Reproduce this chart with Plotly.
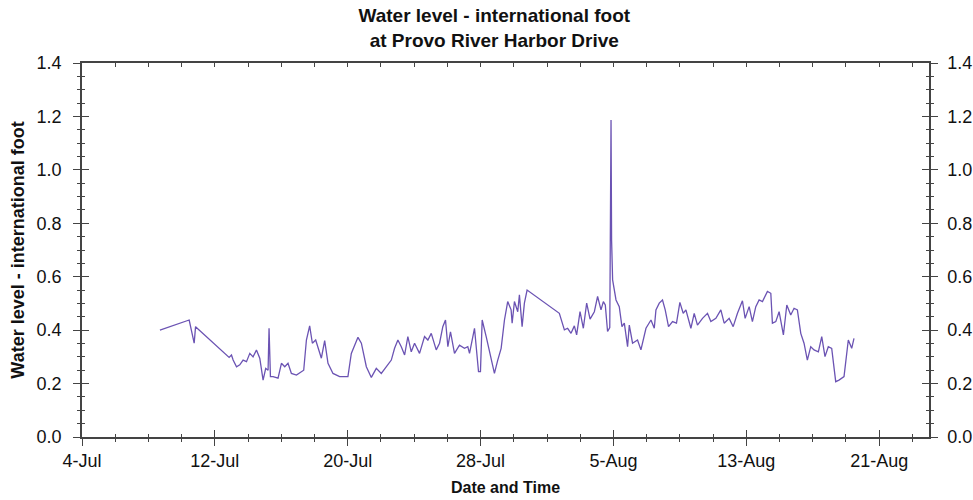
import plotly.graph_objects as go
import pandas as pd

# Water level readings (international foot) at Provo River Harbor Drive
times = [
    "2023-07-08 16:36", "2023-07-10 10:54", "2023-07-10 18:06", "2023-07-10 20:06",
    "2023-07-12 20:36", "2023-07-13 00:00", "2023-07-13 02:24", "2023-07-13 07:18",
    "2023-07-13 12:00", "2023-07-13 16:48", "2023-07-13 21:42", "2023-07-14 02:30",
    "2023-07-14 07:12", "2023-07-14 12:06", "2023-07-14 16:54", "2023-07-14 19:18",
    "2023-07-14 21:42", "2023-07-15 01:30", "2023-07-15 04:54", "2023-07-15 06:18",
    "2023-07-15 08:18", "2023-07-15 12:06", "2023-07-15 19:18", "2023-07-16 00:12",
    "2023-07-16 05:00", "2023-07-16 09:42", "2023-07-16 14:36", "2023-07-16 21:54",
    "2023-07-17 05:06", "2023-07-17 08:24", "2023-07-17 12:18", "2023-07-17 17:00",
    "2023-07-17 20:54", "2023-07-18 01:42", "2023-07-18 09:54", "2023-07-18 14:42",
    "2023-07-18 19:30", "2023-07-19 02:42", "2023-07-19 12:18", "2023-07-20 00:18",
    "2023-07-20 05:12", "2023-07-20 14:48", "2023-07-20 19:42", "2023-07-21 02:54",
    "2023-07-21 10:06", "2023-07-21 17:18", "2023-07-22 00:30", "2023-07-22 07:42",
    "2023-07-22 15:00", "2023-07-22 19:42", "2023-07-23 00:30", "2023-07-23 05:24",
    "2023-07-23 10:12", "2023-07-23 14:54", "2023-07-23 19:48", "2023-07-24 00:36",
    "2023-07-24 07:48", "2023-07-24 15:00", "2023-07-24 19:48", "2023-07-25 00:42",
    "2023-07-25 07:54", "2023-07-25 12:42", "2023-07-25 17:24", "2023-07-25 21:18",
    "2023-07-26 00:42", "2023-07-26 04:30", "2023-07-26 10:18", "2023-07-26 17:30",
    "2023-07-27 00:42", "2023-07-27 05:30", "2023-07-27 08:00", "2023-07-27 15:12",
    "2023-07-27 21:00", "2023-07-27 23:48", "2023-07-28 02:18", "2023-07-28 08:06",
    "2023-07-28 20:00", "2023-07-29 00:48", "2023-07-29 05:42", "2023-07-29 10:30",
    "2023-07-29 15:12", "2023-07-29 20:06", "2023-07-29 21:36", "2023-07-30 00:54",
    "2023-07-30 05:42", "2023-07-30 08:06", "2023-07-30 12:00", "2023-07-30 15:18",
    "2023-07-30 19:12", "2023-08-01 17:48", "2023-08-01 21:42", "2023-08-02 01:06",
    "2023-08-02 05:48", "2023-08-02 10:42", "2023-08-02 15:30", "2023-08-02 18:48",
    "2023-08-02 23:42", "2023-08-03 04:30", "2023-08-03 09:18", "2023-08-03 14:12",
    "2023-08-03 20:24", "2023-08-04 01:06", "2023-08-04 06:00", "2023-08-04 09:24",
    "2023-08-04 12:12", "2023-08-04 15:30", "2023-08-04 18:42", "2023-08-04 20:30",
    "2023-08-04 21:18", "2023-08-04 22:48", "2023-08-05 03:42", "2023-08-05 08:24",
    "2023-08-05 12:18", "2023-08-05 15:42", "2023-08-05 20:24", "2023-08-05 22:54",
    "2023-08-06 03:36", "2023-08-06 10:48", "2023-08-06 15:42", "2023-08-06 23:00",
    "2023-08-07 06:12", "2023-08-07 11:00", "2023-08-07 13:24", "2023-08-07 18:12",
    "2023-08-07 22:54", "2023-08-08 02:48", "2023-08-08 07:36", "2023-08-08 13:24",
    "2023-08-08 19:06", "2023-08-09 00:00", "2023-08-09 04:48", "2023-08-09 08:42",
    "2023-08-09 15:54", "2023-08-09 20:42", "2023-08-10 01:24", "2023-08-10 08:42",
    "2023-08-10 15:54", "2023-08-10 20:48", "2023-08-11 04:00", "2023-08-11 11:12",
    "2023-08-11 16:00", "2023-08-11 23:12", "2023-08-12 05:00", "2023-08-12 11:12",
    "2023-08-12 18:24", "2023-08-12 22:18", "2023-08-13 04:06", "2023-08-13 08:48",
    "2023-08-13 13:42", "2023-08-13 18:30", "2023-08-13 23:18", "2023-08-14 06:30",
    "2023-08-14 11:24", "2023-08-14 13:42", "2023-08-14 18:36", "2023-08-14 23:24",
    "2023-08-15 05:36", "2023-08-15 10:30", "2023-08-15 16:12", "2023-08-15 21:00",
    "2023-08-16 01:48", "2023-08-16 06:42", "2023-08-16 11:24", "2023-08-16 16:12",
    "2023-08-16 21:06", "2023-08-17 01:54", "2023-08-17 08:06", "2023-08-17 13:00",
    "2023-08-17 17:42", "2023-08-17 22:30", "2023-08-18 03:24", "2023-08-18 09:12",
    "2023-08-18 13:54", "2023-08-18 21:12", "2023-08-19 03:24", "2023-08-19 08:18",
    "2023-08-19 11:36",
]

water_level = [
    0.400, 0.438, 0.351, 0.413,
    0.298, 0.307, 0.288, 0.263,
    0.270, 0.288, 0.282, 0.313,
    0.300, 0.326, 0.295, 0.250,
    0.213, 0.257, 0.250, 0.407,
    0.226, 0.226, 0.220, 0.276,
    0.263, 0.276, 0.238, 0.232,
    0.245, 0.250, 0.363, 0.416,
    0.351, 0.363, 0.295, 0.361,
    0.276, 0.238, 0.226, 0.226,
    0.313, 0.373, 0.351, 0.263,
    0.223, 0.257, 0.238, 0.263,
    0.288, 0.332, 0.363, 0.338,
    0.307, 0.376, 0.319, 0.351,
    0.313, 0.376, 0.363, 0.388,
    0.326, 0.351, 0.413, 0.438,
    0.338, 0.394, 0.313, 0.344,
    0.332, 0.338, 0.313, 0.407,
    0.245, 0.245, 0.438, 0.376,
    0.238, 0.288, 0.332, 0.438,
    0.507, 0.476, 0.426, 0.507,
    0.469, 0.532, 0.413, 0.501,
    0.550, 0.463, 0.432, 0.401,
    0.407, 0.388, 0.416, 0.382,
    0.469, 0.407, 0.501, 0.441,
    0.469, 0.526, 0.476, 0.507,
    0.494, 0.395, 0.410, 1.187,
    0.738, 0.588, 0.513, 0.488,
    0.413, 0.426, 0.338, 0.419,
    0.351, 0.363, 0.326, 0.407,
    0.438, 0.407, 0.476, 0.501,
    0.513, 0.476, 0.413, 0.432,
    0.426, 0.504, 0.463, 0.476,
    0.407, 0.463, 0.419, 0.444,
    0.463, 0.432, 0.444, 0.476,
    0.426, 0.444, 0.413, 0.463,
    0.510, 0.444, 0.488, 0.432,
    0.488, 0.513, 0.507, 0.545,
    0.538, 0.426, 0.432, 0.469,
    0.382, 0.494, 0.457, 0.482,
    0.476, 0.388, 0.351, 0.288,
    0.338, 0.326, 0.319, 0.376,
    0.301, 0.338, 0.332, 0.207,
    0.213, 0.226, 0.363, 0.332,
    0.369,
]

x_range = ["2023-07-04", "2023-08-24"]
y_range = [0, 1.4]

title_lines = ["Water level - international foot", "at Provo River Harbor Drive"]
y_title = "Water level - international foot"
x_title = "Date and Time"

FONT = "Liberation Sans, Arial, sans-serif"
AXIS_COLOR = "#444444"
LINE_COLOR = "#6b53b3"
DAY_MS = 86400000

fig = go.Figure()
fig.add_trace(go.Scatter(
    x=pd.to_datetime(times), y=water_level, mode="lines",
    line=dict(color=LINE_COLOR, width=1.3), showlegend=False,
    hoverinfo="x+y",
))
# helper traces so that the overlay axes (crossing ticks) are drawn
for xa, ya in [("x2", "y2"), ("x3", "y3"), ("x", "y4")]:
    fig.add_trace(go.Scatter(x=pd.to_datetime(times[:1]), y=water_level[:1],
                             xaxis=xa, yaxis=ya, mode="lines",
                             showlegend=False, hoverinfo="skip", opacity=0))

xcommon = dict(type="date", range=x_range, tick0="2023-07-04", dtick=8 * DAY_MS,
               showgrid=False, zeroline=False, tickcolor=AXIS_COLOR,
               automargin=False)
ycommon = dict(range=y_range, dtick=0.2, tick0=0, showgrid=False, zeroline=False,
               tickcolor=AXIS_COLOR, automargin=False)

title_html = "<br>".join("<b>" + t + "</b>" for t in title_lines)

fig.update_layout(
    width=973, height=500,
    margin=dict(l=82, r=44, t=63, b=63, autoexpand=False),
    paper_bgcolor="white", plot_bgcolor="white",
    font=dict(family=FONT, color="#222222"),
    title=dict(text=title_html,
               x=0.508, xref="container", xanchor="center",
               y=0.956, yref="container", yanchor="top",
               font=dict(family=FONT, size=19, color="#111111")),
    xaxis=dict(**xcommon, side="bottom", tickformat="%-d-%b",
               ticks="outside", ticklen=7, tickwidth=1,
               minor=dict(dtick=2 * DAY_MS, tick0="2023-07-04", ticks="outside",
                          ticklen=3, tickcolor=AXIS_COLOR, showgrid=False),
               showline=True, linecolor=AXIS_COLOR, linewidth=1.5,
               tickfont=dict(size=18, color="#111111"),
               title=dict(text="<b>" + x_title + "</b>",
                          font=dict(size=16, color="#111111"), standoff=11)),
    xaxis2=dict(**xcommon, overlaying="x", side="bottom", anchor="y",
                ticks="inside", ticklen=7, showticklabels=False, showline=False,
                minor=dict(dtick=2 * DAY_MS, tick0="2023-07-04", ticks="inside",
                           ticklen=3, tickcolor=AXIS_COLOR, showgrid=False)),
    xaxis3=dict(**xcommon, overlaying="x", side="top", anchor="y",
                ticks="inside", ticklen=4, showticklabels=False,
                showline=True, linecolor=AXIS_COLOR, linewidth=1.5,
                minor=dict(dtick=2 * DAY_MS, tick0="2023-07-04", ticks="inside",
                           ticklen=4, tickcolor=AXIS_COLOR, showgrid=False)),
    yaxis=dict(**ycommon, side="left", ticks="outside", ticklen=7,
               tickformat=".1f", ticklabelstandoff=8,
               minor=dict(dtick=0.05, ticks="outside", ticklen=3,
                          tickcolor=AXIS_COLOR, showgrid=False),
               showline=True, linecolor=AXIS_COLOR, linewidth=1.5,
               tickfont=dict(size=18, color="#111111"),
               title=dict(text="<b>" + y_title + "</b>",
                          font=dict(size=18, color="#111111"), standoff=7)),
    yaxis2=dict(**ycommon, overlaying="y", side="left", anchor="x",
                ticks="inside", ticklen=7, showticklabels=False, showline=False,
                minor=dict(dtick=0.05, ticks="inside", ticklen=3,
                           tickcolor=AXIS_COLOR, showgrid=False)),
    yaxis3=dict(**ycommon, overlaying="y", side="right", anchor="x",
                ticks="outside", ticklen=7, tickformat=".1f", ticklabelstandoff=6,
                minor=dict(dtick=0.05, ticks="outside", ticklen=3,
                           tickcolor=AXIS_COLOR, showgrid=False),
                showline=True, linecolor=AXIS_COLOR, linewidth=1.5,
                tickfont=dict(size=18, color="#111111")),
    yaxis4=dict(**ycommon, overlaying="y", side="right", anchor="x",
                ticks="inside", ticklen=7, showticklabels=False, showline=False,
                minor=dict(dtick=0.05, ticks="inside", ticklen=3,
                           tickcolor=AXIS_COLOR, showgrid=False)),
)

# remove the browser's default 8px page margin so the figure fills the window
fig.write_html("out.html",
               config={"displayModeBar": False},
               post_script="document.body.style.margin='0';"
                           "document.body.style.overflow='hidden';")
